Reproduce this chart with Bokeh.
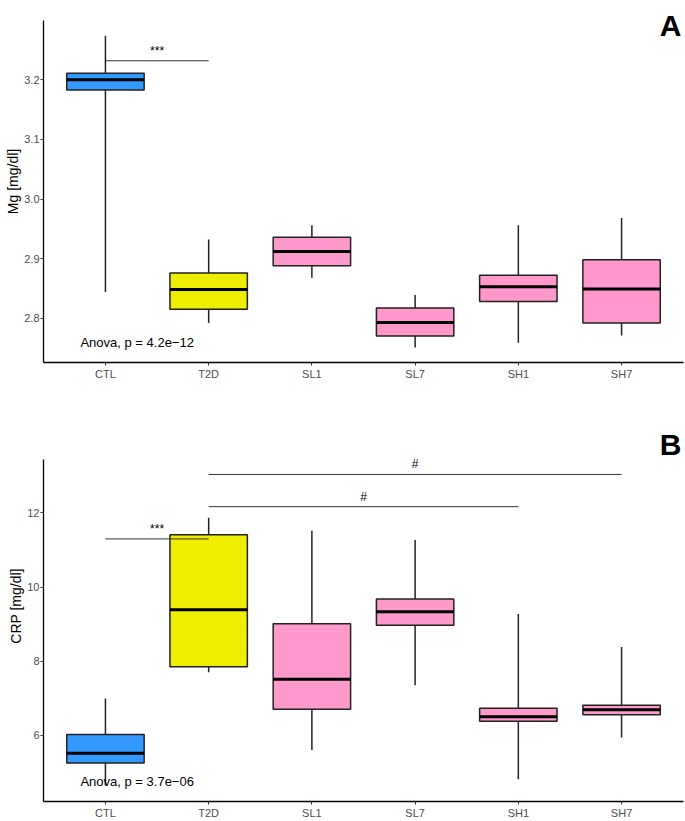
from bokeh.plotting import figure
from bokeh.layouts import column
from bokeh.models import Range1d, FixedTicker, ColumnDataSource
from bokeh.core.properties import value
from bokeh.embed import file_html
from bokeh.resources import INLINE

groups = ["CTL", "T2D", "SL1", "SL7", "SH1", "SH7"]
fills = ["#3399ff", "#eeee00", "#ff99cc", "#ff99cc", "#ff99cc", "#ff99cc"]

# Mg [mg/dl] box statistics per group
mg_low = [2.844, 2.792, 2.868, 2.751, 2.759, 2.771]
mg_q1 = [3.183, 2.815, 2.888, 2.770, 2.828, 2.792]
mg_med = [3.200, 2.848, 2.912, 2.793, 2.853, 2.849]
mg_q3 = [3.211, 2.876, 2.936, 2.817, 2.872, 2.898]
mg_high = [3.274, 2.932, 2.956, 2.839, 2.956, 2.968]

# CRP [mg/dl] box statistics per group
crp_low = [4.64, 7.70, 5.60, 7.35, 4.81, 5.94]
crp_q1 = [5.25, 7.85, 6.70, 8.97, 6.38, 6.55]
crp_med = [5.51, 9.39, 7.51, 9.33, 6.50, 6.69]
crp_q3 = [6.02, 11.41, 9.01, 9.68, 6.73, 6.81]
crp_high = [6.99, 11.87, 11.52, 11.27, 9.27, 8.38]

# significance brackets: (from group, to group, height, label)
mg_brackets = [("CTL", "T2D", 3.232, "***")]
crp_brackets = [("CTL", "T2D", 11.30, "***"),
                ("T2D", "SH1", 12.17, "#"),
                ("T2D", "SH7", 13.04, "#")]

mg_anova = "Anova, p = 4.2e\u221212"
crp_anova = "Anova, p = 3.7e\u221206"

FONT = "Liberation Sans"
pos = {g: i + 1 for i, g in enumerate(groups)}


def panel(title, ylab, low, q1, med, q3, high, brackets, anova, anova_y,
          yr, top_pad, yticks, yfmt, height, border_bottom, border_left,
          letter_y):
    # the frame reaches the top of the figure; the y axis line is bounded
    # to the data range so the panel letter can sit above it
    p = figure(width=685, height=height, output_backend="svg",
               toolbar_location=None, x_range=Range1d(0.4, 6.6),
               y_range=Range1d(yr[0], yr[1] + top_pad),
               min_border_left=border_left, min_border_right=2,
               min_border_top=0, min_border_bottom=border_bottom)
    p.outline_line_color = None
    p.xgrid.visible = False
    p.ygrid.visible = False
    p.background_fill_color = "white"

    xs = [pos[g] for g in groups]
    w = 0.75
    src = ColumnDataSource(dict(x=xs, low=low, q1=q1, med=med, q3=q3,
                                high=high, fill=fills,
                                xl=[x - w / 2 for x in xs],
                                xr=[x + w / 2 for x in xs]))
    p.segment(x0="x", y0="low", x1="x", y1="high", source=src,
              line_color="#222222", line_width=1.5)
    p.vbar(x="x", width=w, bottom="q1", top="q3", source=src,
           fill_color="fill", line_color="#222222", line_width=1.5)
    p.segment(x0="xl", y0="med", x1="xr", y1="med", source=src,
              line_color="black", line_width=3)

    for a, b, h, lab in brackets:
        p.segment(x0=[pos[a]], y0=[h], x1=[pos[b]], y1=[h],
                  line_color="#333333", line_width=1)
        p.text(x=[(pos[a] + pos[b]) / 2], y=[h], text=[lab],
               text_align="center", text_baseline="bottom", y_offset=-3,
               text_font=value(FONT), text_font_size="12px",
               text_color="black")

    p.text(x=[1], y=[anova_y], text=[anova], x_offset=-25,
           text_align="left", text_baseline="middle",
           text_font=value(FONT), text_font_size="13px", text_color="black")

    p.text(x=[6.6], y=[letter_y], text=[title], x_offset=-2,
           text_align="right", text_baseline="alphabetic",
           text_font=value(FONT), text_font_size="30px",
           text_font_style="bold", text_color="black")

    p.xaxis.ticker = FixedTicker(ticks=xs)
    p.xaxis.major_label_overrides = {pos[g]: g for g in groups}
    p.yaxis.ticker = FixedTicker(ticks=yticks)
    p.yaxis.major_label_overrides = {t: yfmt.format(t) for t in yticks}
    p.yaxis.bounds = (yr[0], yr[1])
    for ax in (p.xaxis, p.yaxis):
        ax.axis_line_color = "black"
        ax.axis_line_width = 1.3
        ax.major_tick_line_color = "#333333"
        ax.major_tick_in = 0
        ax.major_tick_out = 3
        ax.minor_tick_line_color = None
        ax.major_label_text_font = FONT
        ax.major_label_text_font_size = "11px"
        ax.major_label_text_color = "#4d4d4d"
        ax.major_label_standoff = 2
    p.yaxis.major_label_standoff = 1
    p.yaxis.axis_label = ylab
    p.yaxis.axis_label_text_font = FONT
    p.yaxis.axis_label_text_font_size = "14px"
    p.yaxis.axis_label_text_font_style = "normal"
    p.yaxis.axis_label_text_color = "black"
    p.yaxis.axis_label_standoff = 0
    return p


pa = panel("A", "Mg [mg/dl]", mg_low, mg_q1, mg_med, mg_q3, mg_high,
           mg_brackets, mg_anova, 2.7597, (2.7257, 3.2995), 0.0336,
           [2.8, 2.9, 3.0, 3.1, 3.2], "{:.1f}", 410, 48, 43, 3.291)
pb = panel("B", "CRP [mg/dl]", crp_low, crp_q1, crp_med, crp_q3, crp_high,
           crp_brackets, crp_anova, 4.755, (4.21, 13.45), 1.317,
           [6, 8, 10, 12], "{:.0f}", 411, 18, 40, 13.853)

layout = column(pa, pb, spacing=0)
open("out.html", "w").write(file_html(layout, INLINE))
